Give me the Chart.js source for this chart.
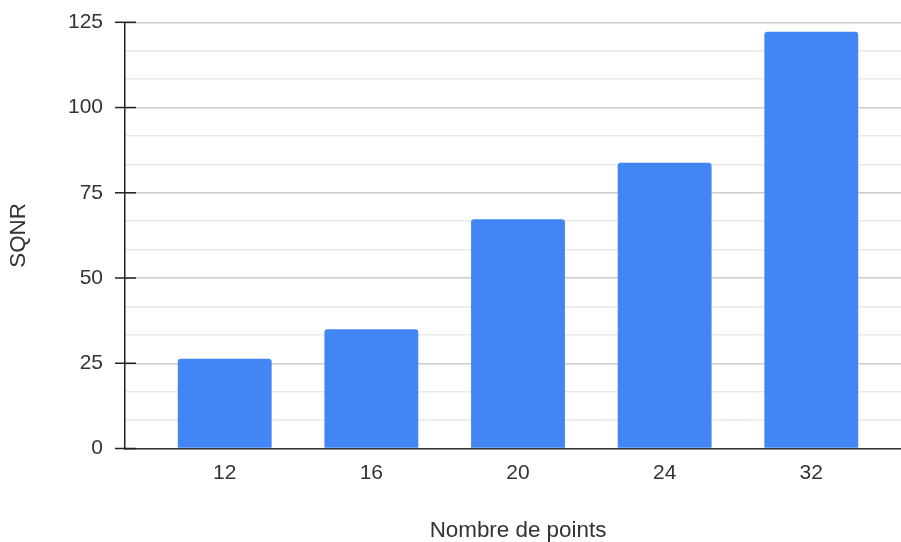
<!DOCTYPE html>
<html>
<head>
<meta charset="utf-8">
<script src="https://cdn.jsdelivr.net/npm/chart.js@4"></script>
<style>
  html, body { margin: 0; padding: 0; background: #ffffff; overflow: hidden; }
  #wrap { width: 901px; height: 542px; overflow: hidden; }
</style>
</head>
<body>
<div id="wrap"><canvas id="chart" width="911" height="542"></canvas></div>
<script>
// Values
const categories = ['12', '16', '20', '24', '32'];
const sqnrValues = [26.3, 35.0, 67.2, 83.8, 122.2];
const yTickLabels = [0, 25, 50, 75, 100, 125];
const xAxisTitle = 'Nombre de points';
const yAxisTitle = 'SQNR';

const FONT = '"Liberation Sans", Arial, sans-serif';
const TEXT = '#333333';

// Major ticks every 25 with two minor gridlines between them
function buildYTicks() {
  const ticks = [];
  for (let i = 0; i < yTickLabels.length; i++) {
    ticks.push({ value: yTickLabels[i], major: true });
    if (i < yTickLabels.length - 1) {
      const step = (yTickLabels[i + 1] - yTickLabels[i]) / 3;
      ticks.push({ value: yTickLabels[i] + step, major: false });
      ticks.push({ value: yTickLabels[i] + 2 * step, major: false });
    }
  }
  return ticks;
}

// Short dark tick marks crossing the vertical axis at labelled values
const axisTickMarks = {
  id: 'axisTickMarks',
  afterDatasetsDraw(chart) {
    const y = chart.scales.y;
    const ctx = chart.ctx;
    ctx.save();
    ctx.strokeStyle = '#222222';
    ctx.lineWidth = 1.5;
    yTickLabels.forEach(v => {
      const py = y.getPixelForValue(v);
      ctx.beginPath();
      ctx.moveTo(y.right - 10, py);
      ctx.lineTo(y.right + 11, py);
      ctx.stroke();
    });
    ctx.restore();
  }
};

new Chart(document.getElementById('chart'), {
  type: 'bar',
  data: {
    datasets: [{
      label: yAxisTitle,
      data: sqnrValues.map((v, i) => ({ x: i, y: v })),
      backgroundColor: '#4285F4',
      borderWidth: 0,
      borderRadius: 3,
      categoryPercentage: 0.8,
      barPercentage: 0.8
    }]
  },
  options: {
    responsive: false,
    animation: false,
    devicePixelRatio: 1,
    layout: { padding: { top: 22.3, right: 0, bottom: 0, left: 0 } },
    plugins: {
      legend: { display: false },
      tooltip: { enabled: false }
    },
    scales: {
      x: {
        type: 'linear',
        offset: false,
        min: -0.68,
        max: 4.68,
        afterBuildTicks(scale) {
          scale.ticks = categories.map((_, i) => ({ value: i }));
        },
        afterFit(scale) { scale.height = 93.5; },
        grid: { display: false, drawTicks: false, offset: false },
        border: { display: true, color: '#333333', width: 1.5 },
        ticks: {
          autoSkip: false,
          maxRotation: 0,
          padding: 12,
          color: TEXT,
          font: { family: FONT, size: 21 },
          callback: (v) => categories[v]
        },
        title: {
          display: true,
          text: xAxisTitle,
          color: TEXT,
          font: { family: FONT, size: 22.4, lineHeight: 1.0 },
          padding: { top: 0, bottom: 0 }
        }
      },
      y: {
        min: 0,
        max: 125,
        afterBuildTicks(scale) { scale.ticks = buildYTicks(); },
        afterFit(scale) { scale.width = 125; },
        grid: {
          drawTicks: true,
          tickLength: 22,
          tickColor: 'rgba(0,0,0,0)',
          lineWidth: 1.5,
          color: (ctx) => (ctx.tick && ctx.tick.major) ? '#cccccc' : '#e9e9e9'
        },
        border: { display: true, color: '#222222', width: 1.5 },
        ticks: {
          autoSkip: false,
          padding: 0,
          color: TEXT,
          font: { family: FONT, size: 21 },
          callback: (v) => yTickLabels.includes(v) ? String(v) : ''
        },
        title: {
          display: true,
          text: yAxisTitle,
          color: TEXT,
          font: { family: FONT, size: 22.4, lineHeight: 1.1 },
          padding: { top: 7, bottom: 0 }
        }
      }
    }
  },
  plugins: [axisTickMarks]
});
</script>
</body>
</html>
